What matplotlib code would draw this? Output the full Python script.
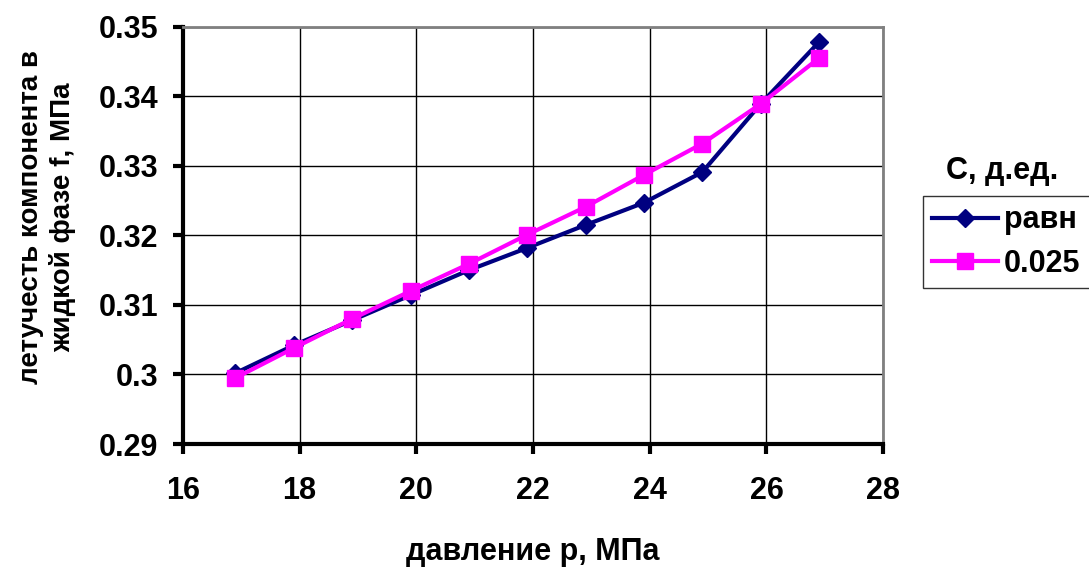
import matplotlib
matplotlib.use("Agg")
import matplotlib.pyplot as plt

plt.rcParams['font.family'] = ['Liberation Sans', 'DejaVu Sans']
plt.rcParams['font.weight'] = 'bold'

# pressure, MPa
p = [16.9, 17.9, 18.9, 19.9, 20.9, 21.9, 22.9, 23.9, 24.9, 25.9, 26.9]
# fugacity, equilibrium
f_ravn = [0.3002, 0.3042, 0.3078, 0.3114, 0.3150, 0.3182, 0.3215, 0.3247, 0.3291, 0.3389, 0.3478]
# fugacity, C = 0.025
f_025 = [0.2995, 0.3038, 0.3080, 0.3120, 0.3159, 0.3201, 0.3241, 0.3287, 0.3332, 0.3389, 0.3455]

xticks = [16, 18, 20, 22, 24, 26, 28]
yticks = [0.29, 0.30, 0.31, 0.32, 0.33, 0.34, 0.35]
ylabels = ['0.29', '0.3', '0.31', '0.32', '0.33', '0.34', '0.35']

fig = plt.figure(figsize=(10.89, 5.7), dpi=100)
ax = fig.add_axes([0.168, 0.221, 0.643, 0.732])

ax.plot(p, f_ravn, color='#000080', lw=3, marker='D', ms=9, label='равн', zorder=3)
ax.plot(p, f_025, color='#FF00FF', lw=3, marker='s', ms=11, label='0.025', zorder=4)

ax.set_xlim(16, 28)
ax.set_ylim(0.29, 0.35)
ax.set_xticks(xticks)
ax.set_yticks(yticks)
ax.set_yticklabels(ylabels)
ax.grid(True, color='black', lw=1)
ax.set_axisbelow(True)

for s in ['top', 'right']:
    ax.spines[s].set_color('#808080')
    ax.spines[s].set_linewidth(2)
for s in ['left', 'bottom']:
    ax.spines[s].set_color('black')
    ax.spines[s].set_linewidth(3)
ax.tick_params(direction='out', length=7, width=3, labelsize=22)
ax.tick_params(axis='y', pad=11)
ax.tick_params(axis='x', pad=16)

ax.set_xlabel('давление р, МПа', fontsize=22, fontweight='bold', labelpad=22)
ax.set_ylabel('летучесть компонента в\nжидкой фазе f, МПа', fontsize=20,
              fontweight='bold', linespacing=1.25)
ax.yaxis.set_label_coords(-0.153, 0.544)

fig.text(0.92, 0.70, 'С, д.ед.', fontsize=22, fontweight='bold', ha='center', va='center')
leg = ax.legend(loc='upper left', bbox_to_anchor=(0.8476, 0.656), bbox_transform=fig.transFigure,
                fontsize=22, frameon=True, fancybox=False, edgecolor='black',
                handlelength=2.15, borderpad=0.3, labelspacing=0.45, handletextpad=0.2,
                borderaxespad=0)
leg.get_frame().set_linewidth(1)
for t in leg.get_texts():
    t.set_fontweight('bold')

fig.savefig('out.png', dpi=100)
